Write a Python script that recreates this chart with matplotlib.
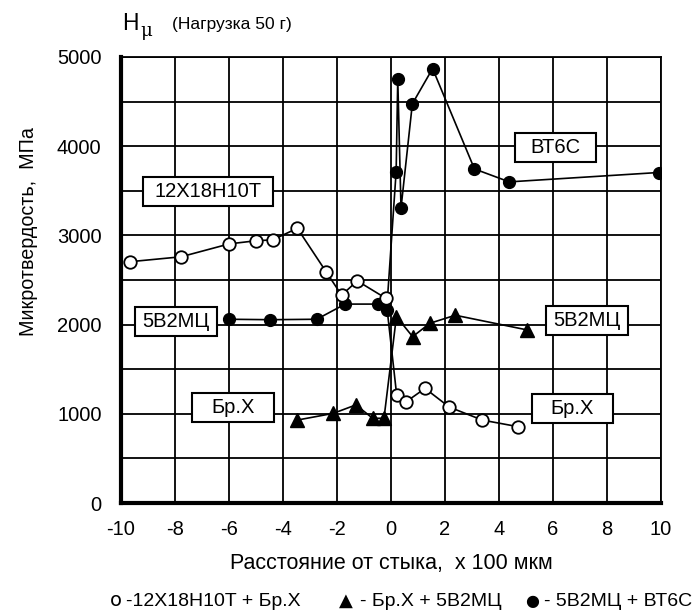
import numpy as np
import matplotlib.pyplot as plt
from matplotlib.patches import Rectangle

plt.rcParams['font.family'] = ['Liberation Sans', 'DejaVu Sans']

# ---- data ----
# o : 12X18H10T + Бр.X
x_open = [-9.67, -7.78, -5.99, -5.0, -4.38, -3.47, -2.41, -1.83, -1.25, -0.19,
          0.21, 0.56, 1.26, 2.16, 3.38, 4.72]
y_open = [2705, 2760, 2905, 2940, 2950, 3080, 2595, 2330, 2490, 2295,
          1210, 1135, 1285, 1075, 930, 855]
# triangles : Бр.X + 5B2МЦ
x_tri = [-3.47, -2.14, -1.30, -0.68, -0.26, 0.20, 0.80, 1.44, 2.38, 5.05]
y_tri = [930, 1005, 1100, 950, 950, 2090, 1865, 2015, 2105, 1940]
# filled circles : 5B2МЦ + ВТ6С
x_fill = [-5.99, -4.48, -2.75, -1.70, -0.47, -0.16, 0.19, 0.25, 0.37, 0.79,
          1.54, 3.09, 4.38, 9.91]
y_fill = [2060, 2055, 2060, 2230, 2230, 2165, 3715, 4750, 3305, 4475,
          4870, 3745, 3600, 3705]

# material labels in boxes: text, x, y, box width (x units)
lab_text = ['12X18H10T', '5B2МЦ', 'Бр.X', 'ВТ6С', '5B2МЦ', 'Бр.X']
lab_x = [-6.78, -7.97, -5.86, 6.09, 7.26, 6.72]
lab_y = [3490, 2030, 1075, 3985, 2045, 1055]
lab_w = [4.8, 3.03, 3.03, 3.03, 3.03, 3.03]
lab_h = 325

legend_sym = ['о', '▲', '●']
legend_txt = ['-12X18H10T + Бр.X', '- Бр.X + 5B2МЦ', '- 5B2МЦ + ВТ6С']

xticks = np.arange(-10, 11, 2)
yticks = [0, 1000, 2000, 3000, 4000, 5000]

# ---- figure ----
fig = plt.figure(figsize=(6.92, 6.16), dpi=100)
ax = fig.add_axes([0.1749, 0.1834, 0.7803, 0.7241])

ax.set_xlim(-10, 10)
ax.set_ylim(0, 5000)
ax.grid(True, color='black', lw=1.3)
ax.set_axisbelow(True)
ax.set_xticks(xticks)
ax.set_xticklabels([str(t) for t in xticks], fontsize=14.5)
ygrid = np.arange(0, 5001, 500)
ax.set_yticks(ygrid)
ax.set_yticklabels([str(t) if t in yticks else '' for t in ygrid], fontsize=14.5)
ax.tick_params(length=0, pad=14)
ax.tick_params(axis='x', pad=12)
for s in ['left', 'bottom']:
    ax.spines[s].set_linewidth(3)
for s in ['top', 'right']:
    ax.spines[s].set_linewidth(1.3)

ax.plot(x_open, y_open, '-o', color='black', mfc='white', mec='black', mew=1.3,
        ms=9, lw=1.2, zorder=4)
ax.plot(x_tri, y_tri, '-^', color='black', ms=10, lw=1.2, zorder=3)
ax.plot(x_fill, y_fill, '-o', color='black', ms=8.5, lw=1.2, zorder=3)

for t, x, y, w in zip(lab_text, lab_x, lab_y, lab_w):
    ax.add_patch(Rectangle((x - w / 2, y - lab_h / 2), w, lab_h, fc='white',
                           ec='black', lw=1.5, zorder=5))
    ax.text(x, y, t, ha='center', va='center', fontsize=14.5, zorder=6)

# title H_mu (load 50 g)
fig.text(122 / 692, 1 - 24 / 616, 'H', fontsize=16.5, ha='left', va='center')
fig.text(140 / 692, 1 - 31 / 616, 'μ', fontsize=13, family='DejaVu Serif',
         ha='left', va='center')
fig.text(172 / 692, 1 - 25 / 616, '(Нагрузка 50 г)', fontsize=12.5,
         ha='left', va='center')
fig.text(29 / 692, 1 - 232 / 616, 'Микротвердость,  МПа', fontsize=14.2,
         rotation=90, ha='center', va='center')
fig.text(391 / 692, 1 - 563 / 616, 'Расстояние от стыка,  x 100 мкм', fontsize=15.5,
         ha='center', va='center')

# legend line under the chart: symbol + text
sym_x = [110, 339, 525]
sym_size = [14, 13, 11.5]
txt_x = [126, 360, 544]
for s, sx, ss, t, tx in zip(legend_sym, sym_x, sym_size, legend_txt, txt_x):
    fig.text(sx / 692, 1 - 601 / 616, s, fontsize=ss, ha='left', va='center',
             family=['DejaVu Sans'])
    fig.text(tx / 692, 1 - 601 / 616, t, fontsize=14, ha='left', va='center')

fig.savefig('out.png', dpi=100)
